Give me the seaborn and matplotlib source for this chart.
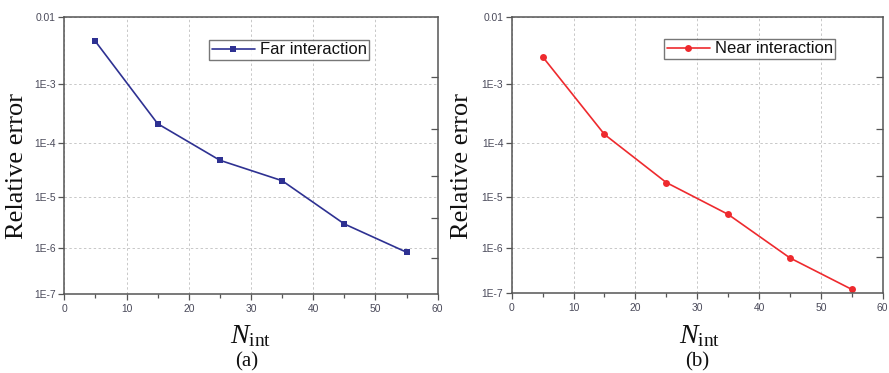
import numpy as np
import pandas as pd
import matplotlib
matplotlib.use("Agg")
import matplotlib.pyplot as plt
import seaborn as sns
from matplotlib.ticker import FixedLocator, FixedFormatter, NullLocator

# ---------------- data ----------------
n_int = [5, 15, 25, 35, 45, 55]
far_error = [4.3e-3, 2.14e-4, 4.85e-5, 2.03e-5, 3.0e-6, 8.2e-7]
near_error = [2.55e-3, 1.4e-4, 1.84e-5, 4.5e-6, 5.9e-7, 1.2e-7]
y_tick_values = [1e-7, 1e-6, 1e-5, 1e-4, 1e-3, 1e-2]
y_tick_labels = ["1E-7", "1E-6", "1E-5", "1E-4", "1E-3", "0.01"]
x_tick_values = [0, 10, 20, 30, 40, 50, 60]
x_minor_values = [5, 15, 25, 35, 45, 55]
right_tick_values = [10 ** -2.896, 10 ** -3.759, 10 ** -4.606, 10 ** -5.406, 10 ** -6.212]
series_names = ["Far interaction", "Near interaction"]
panel_labels = ["(a)", "(b)"]

# ---------------- style ----------------
sns.set_theme(style="white")
plt.rcParams["font.family"] = ["Liberation Sans", "DejaVu Sans"]
plt.rcParams["mathtext.fontset"] = "custom"
plt.rcParams["mathtext.rm"] = "Liberation Serif"
plt.rcParams["mathtext.it"] = "Liberation Serif:italic"

# warped decade axis of the original (decade log -> relative position)
SCALE_LOGS = np.array([-7, -6, -5, -4, -3, -2], dtype=float)
SCALE_POS = np.array([0.0, 45.7, 96.7, 150.7, 210.0, 277.3])


def fwd(v):
    v = np.asarray(v, dtype=float)
    lv = np.log10(np.clip(v, 1e-30, None))
    return np.interp(lv, SCALE_LOGS, SCALE_POS)


def inv(p):
    p = np.asarray(p, dtype=float)
    return 10 ** np.interp(p, SCALE_POS, SCALE_LOGS)


W, H = 889, 373
fig = plt.figure(figsize=(W / 100, H / 100), dpi=100)

panels = [
    dict(rect=[64.3 / W, 1 - 294 / H, (437.7 - 64.3) / W, (294 - 16.7) / H],
         y=far_error, color="#2E3192", marker="s", ms=4.6,
         leg=(209, 40), ylab_x=17, xlab_x=251, plab_x=247),
    dict(rect=[511.7 / W, 1 - 293 / H, (882.7 - 511.7) / W, (293 - 17) / H],
         y=near_error, color="#EE2A2E", marker="o", ms=5.0,
         leg=(664, 39), ylab_x=462, xlab_x=700, plab_x=697),
]

spine_col = "#555555"
tick_lab_col = "#4A4A5A"
for i, p in enumerate(panels):
    ax = fig.add_axes(p["rect"])
    df = pd.DataFrame({"N": n_int, "err": p["y"]})
    sns.lineplot(data=df, x="N", y="err", ax=ax, color=p["color"],
                 marker=p["marker"], markersize=p["ms"], markeredgewidth=0,
                 linewidth=1.2, label=series_names[i])
    ax.set_yscale("function", functions=(fwd, inv))
    ax.set_ylim(1e-7, 1e-2)
    ax.set_xlim(0, 60)

    ax.yaxis.set_major_locator(FixedLocator(y_tick_values))
    ax.yaxis.set_major_formatter(FixedFormatter(y_tick_labels))
    ax.yaxis.set_minor_locator(NullLocator())
    ax.xaxis.set_major_locator(FixedLocator(x_tick_values))
    ax.xaxis.set_minor_locator(FixedLocator(x_minor_values))

    ax.grid(True, which="major", color="#C8C8C8", linestyle=(0, (2.5, 2.5)),
            linewidth=0.7)
    for s in ax.spines.values():
        s.set_color(spine_col)
        s.set_linewidth(1.1)
    ax.tick_params(axis="both", which="major", direction="out", length=4,
                   width=0.9, color=spine_col, labelsize=7.4,
                   labelcolor=tick_lab_col, left=True, bottom=True)
    ax.tick_params(axis="x", which="major", pad=3)
    ax.tick_params(axis="y", which="major", pad=2)
    ax.tick_params(axis="x", which="minor", direction="out", length=3,
                   width=0.9, color=spine_col, bottom=True)
    ax.set_xlabel("")
    ax.set_ylabel("")

    # right-side inward ticks
    axr = ax.twinx()
    axr.set_yscale("function", functions=(fwd, inv))
    axr.set_ylim(1e-7, 1e-2)
    axr.yaxis.set_major_locator(FixedLocator(right_tick_values))
    axr.yaxis.set_minor_locator(NullLocator())
    axr.tick_params(axis="y", which="major", direction="in", length=5,
                    width=0.9, color=spine_col, labelright=False, right=True)
    for s in axr.spines.values():
        s.set_visible(False)
    axr.grid(False)

    # legend
    lx = (p["leg"][0] - p["rect"][0] * W) / (p["rect"][2] * W)
    ly = ((1 - p["rect"][1]) * H - p["leg"][1]) / (p["rect"][3] * H)
    leg = ax.legend(loc="upper left", bbox_to_anchor=(lx, ly), borderaxespad=0,
                    frameon=True, fancybox=False, fontsize=12,
                    handlelength=2.6, handletextpad=0.3, borderpad=0.15,
                    labelcolor="#111111")
    leg.get_frame().set_edgecolor(spine_col)
    leg.get_frame().set_linewidth(1.0)

    # labels
    fig.text(p["ylab_x"] / W, 1 - 166 / H, "Relative error", rotation=90,
             ha="center", va="center", fontsize=19,
             family=["Liberation Serif", "DejaVu Serif"], color="#111111")
    fig.text(p["xlab_x"] / W, 1 - 336 / H, r"$N_{\mathrm{int}}$",
             ha="center", va="center", fontsize=20, color="#111111")
    fig.text(p["plab_x"] / W, 1 - 362 / H, panel_labels[i], ha="center",
             va="center", fontsize=15,
             family=["Liberation Serif", "DejaVu Serif"], color="#111111")

fig.savefig("out.png", dpi=100)
